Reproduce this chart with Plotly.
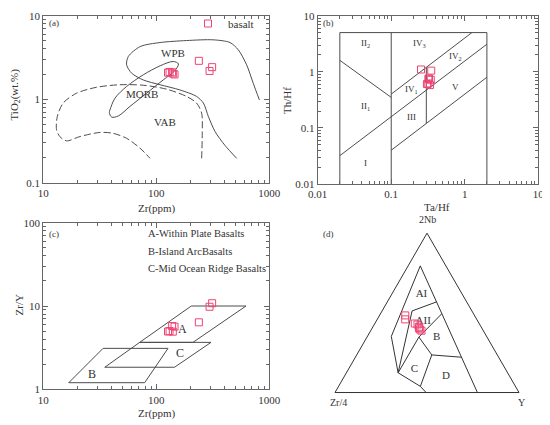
import numpy as np
import plotly.graph_objects as go

# the page body adds an 8px margin, so the figure is 8px smaller and all
# layout positions below are given in window pixels and converted
OFF = 8
W, H = 550 - OFF, 425 - OFF
def px(x): return (x - OFF) / W
def py(y): return 1 - (y - OFF) / H

FONT = "Liberation Serif"
TXT = "#333333"
LINE = "#4d4d4d"
AXC = "#666666"
MK = "#ee4473"

# ---------------- sample data ----------------
# (a) Zr - TiO2
zr_a = [127, 131, 138, 140, 145, 238, 296, 312]
tio2_a = [2.08, 2.12, 2.10, 2.03, 1.98, 2.88, 2.18, 2.42]
# (b) Ta/Hf - Th/Hf
ta_hf = [0.306, 0.319, 0.326, 0.336, 0.345, 0.254, 0.350, 0.320]
th_hf = [0.605, 0.620, 0.760, 0.580, 0.720, 1.10, 1.05, 0.75]
# (c) Zr - Zr/Y
zr_c = [127, 131, 138, 140, 145, 238, 296, 312]
zry_c = [4.94, 5.00, 5.75, 4.92, 5.65, 6.37, 9.8, 10.8]
# (d) ternary 2Nb - Zr/4 - Y
nb2_d = [0.484, 0.459, 0.433, 0.427, 0.413, 0.404, 0.396, 0.388]
zr4_d = [0.376, 0.389, 0.350, 0.338, 0.336, 0.342, 0.341, 0.336]
y_d = [0.140, 0.152, 0.217, 0.235, 0.251, 0.254, 0.263, 0.276]

# ---------------- field boundaries ----------------
# (a)
wpb_zr = [817, 721, 630, 532, 449, 319, 185, 108, 72, 56.5, 54.6, 60.5, 76.7, 108, 162, 227, 261, 289, 331, 405, 514]
wpb_ti = [0.98, 1.55, 2.58, 3.9, 4.77, 5.14, 5.04, 4.77, 4.27, 3.24, 2.58, 2.05, 1.70, 1.49, 1.29, 1.08, 0.90, 0.62, 0.41, 0.28, 0.196]
morb_zr = [38.9, 43.1, 54.6, 76.7, 108, 141, 157, 146, 115, 82, 58.5, 46.1, 40.3, 38.4, 38.9]
morb_ti = [0.745, 1.03, 1.42, 1.96, 2.51, 2.83, 2.65, 2.20, 1.70, 1.18, 0.82, 0.63, 0.61, 0.69, 0.745]
vab_zr = [252, 255, 252, 227, 185, 123, 76.7, 47.7, 29.6, 19.7, 15.0, 13.3, 13.1, 14.0, 16.1, 21.1, 31.7, 41.6, 54.6, 71.6, 88]
vab_ti = [0.196, 0.39, 0.68, 0.90, 1.08, 1.32, 1.47, 1.49, 1.39, 1.18, 0.90, 0.62, 0.43, 0.357, 0.317, 0.357, 0.40, 0.39, 0.34, 0.26, 0.196]
labels_a = ["WPB", "MORB", "VAB"]
labels_a_zr = [140, 74, 119]
labels_a_ti = [3.56, 1.16, 0.54]

# (b) line segments (Ta/Hf pairs, Th/Hf pairs)
seg_b_x = [[0.02, 0.02, 2, 2], [0.1, 0.1], [0.02, 0.1], [0.02, 2], [0.1, 1.25], [0.1, 2], [0.3, 0.3]]
seg_b_y = [[0.01, 5, 5, 0.01], [0.01, 5], [1.6, 0.35], [0.032, 3.1], [0.4, 5], [0.04, 0.8], [0.12, 1.2]]
labels_b = ["II<sub>2</sub>", "IV<sub>3</sub>", "IV<sub>2</sub>", "IV<sub>1</sub>", "II<sub>1</sub>", "III", "V", "I"]
labels_b_x = [0.044, 0.246, 0.74, 0.186, 0.044, 0.186, 0.74, 0.044]
labels_b_y = [3.2, 3.2, 1.86, 0.49, 0.245, 0.154, 0.53, 0.024]

# (c) fields
fieldA_zr = [71.3, 204, 622, 211, 71.3]
fieldA_zry = [3.66, 10, 10, 3.66, 3.66]
fieldB_zr = [16.8, 33.8, 127, 78.9, 16.8]
fieldB_zry = [1.2, 3.1, 3.1, 1.2, 1.2]
fieldC_zr = [35, 71.3, 305, 145, 35]
fieldC_zry = [1.84, 3.66, 3.66, 1.84, 1.84]
labels_c = ["A", "B", "C"]
labels_c_zr = [170, 27.2, 161]
labels_c_zry = [5.25, 1.51, 2.73]
legend_c = ["A-Within Plate Basalts", "B-Island ArcBasalts", "C-Mid Ocean Ridge Basalts"]

# (d) ternary boundaries (2Nb, Zr/4, Y)
seg_d = [
    ([0.0, 0.795, 0.352, 0.124, 0.0386, 0.0], [0.226, 0.139, 0.518, 0.595, 0.517, 0.505], [0.774, 0.066, 0.130, 0.281, 0.445, 0.495]),
    ([0.512, 0.569], [0.325, 0.163], [0.163, 0.268]),
    ([0.512, 0.124], [0.325, 0.595], [0.163, 0.281]),
    ([0.494, 0.348], [0.173, 0.370], [0.333, 0.282]),
    ([0.348, 0.124], [0.370, 0.595], [0.282, 0.281]),
    ([0.348, 0.236], [0.370, 0.356], [0.282, 0.408]),
    ([0.236, 0.2215], [0.356, 0.2025], [0.408, 0.576]),
    ([0.236, 0.0386], [0.356, 0.517], [0.408, 0.445]),
]
labels_d = ["AI", "AII", "B", "C", "D"]
labels_d_a = [0.618, 0.447, 0.350, 0.146, 0.0996]
labels_d_b = [0.221, 0.297, 0.272, 0.496, 0.347]
labels_d_c = [0.161, 0.256, 0.378, 0.358, 0.554]

fig = go.Figure()
marker = dict(symbol="square-open", size=7, color=MK, line=dict(width=1, color=MK))

# ---- panel a
fig.add_trace(go.Scatter(x=wpb_zr, y=wpb_ti, mode="lines", line=dict(color=LINE, width=1, shape="spline", smoothing=0.8), xaxis="x", yaxis="y", showlegend=False, hoverinfo="skip"))
fig.add_trace(go.Scatter(x=morb_zr, y=morb_ti, mode="lines", line=dict(color=LINE, width=1, shape="spline", smoothing=0.9), xaxis="x", yaxis="y", showlegend=False, hoverinfo="skip"))
fig.add_trace(go.Scatter(x=vab_zr, y=vab_ti, mode="lines", line=dict(color=LINE, width=1, dash="7px,3px", shape="spline", smoothing=0.8), xaxis="x", yaxis="y", showlegend=False, hoverinfo="skip"))
fig.add_trace(go.Scatter(x=zr_a, y=tio2_a, mode="markers", marker=marker, name="basalt", xaxis="x", yaxis="y", showlegend=True))

# ---- panel b
for sx, sy in zip(seg_b_x, seg_b_y):
    fig.add_trace(go.Scatter(x=sx, y=sy, mode="lines", line=dict(color=LINE, width=1), xaxis="x2", yaxis="y2", showlegend=False, hoverinfo="skip"))
fig.add_trace(go.Scatter(x=ta_hf, y=th_hf, mode="markers", marker=marker, name="basalt", xaxis="x2", yaxis="y2", showlegend=False))

# ---- panel c
for fx, fy in [(fieldA_zr, fieldA_zry), (fieldB_zr, fieldB_zry), (fieldC_zr, fieldC_zry)]:
    fig.add_trace(go.Scatter(x=fx, y=fy, mode="lines", line=dict(color=LINE, width=1), xaxis="x3", yaxis="y3", showlegend=False, hoverinfo="skip"))
fig.add_trace(go.Scatter(x=zr_c, y=zry_c, mode="markers", marker=marker, name="basalt", xaxis="x3", yaxis="y3", showlegend=False))

# ---- panel d
for sa, sb, sc in seg_d:
    fig.add_trace(go.Scatterternary(a=sa, b=sb, c=sc, mode="lines", line=dict(color="#333333", width=1), showlegend=False, hoverinfo="skip"))
fig.add_trace(go.Scatterternary(a=labels_d_a, b=labels_d_b, c=labels_d_c, mode="text", text=labels_d, textfont=dict(family=FONT, size=11, color=TXT), showlegend=False, hoverinfo="skip"))
fig.add_trace(go.Scatterternary(a=nb2_d, b=zr4_d, c=y_d, mode="markers", marker=marker, name="basalt", showlegend=False))

def minor_vals(lo, hi):
    return [d * 10.0 ** e for e in range(lo, hi) for d in range(2, 10)]

def logaxis(domain, rng, tickvals, ticktext, anchor):
    return dict(type="log", domain=domain, range=rng, tickmode="array", tickvals=tickvals, ticktext=ticktext,
                ticks="inside", ticklen=5, tickcolor=AXC, showline=True, linecolor=AXC, linewidth=1,
                mirror="allticks", showgrid=False, zeroline=False, anchor=anchor, automargin=False,
                tickfont=dict(family=FONT, size=11, color=TXT),
                minor=dict(tickvals=minor_vals(int(rng[0]), int(rng[1])), ticks="inside", ticklen=3, tickcolor=AXC))

xa = [px(43.3), px(269.3)]
ya = [py(182.7), py(15.7)]
xb = [px(317.7), px(538.3)]
yb = [py(184), py(15.7)]
xc = [px(43.3), px(269.3)]
yc = [py(389.3), py(222.7)]

fig.update_layout(
    width=W, height=H, autosize=False, margin=dict(l=0, r=0, t=0, b=0, pad=0, autoexpand=False),
    paper_bgcolor="white", plot_bgcolor="white",
    font=dict(family=FONT, size=11, color=TXT),
    xaxis=logaxis(xa, [1, 3], [10, 100, 1000], ["10", "100", "1000"], "y"),
    yaxis=logaxis(ya, [-1, 1], [0.1, 1, 10], ["0.1", "1", "10"], "x"),
    xaxis2=logaxis(xb, [-2, 1], [0.01, 0.1, 1, 10], ["0.01", "0.1", "1", "10"], "y2"),
    yaxis2=logaxis(yb, [-2, 1], [0.01, 0.1, 1, 10], ["0.01", "0.1", "1", "10"], "x2"),
    xaxis3=logaxis(xc, [1, 3], [10, 100, 1000], ["10", "100", "1000"], "y3"),
    yaxis3=logaxis(yc, [0, 2], [1, 10, 100], ["1", "10", "100"], "x3"),
    ternary=dict(
        domain=dict(x=[px(335), px(519)], y=[py(392.7), py(233)]),
        bgcolor="white", sum=1,
        aaxis=dict(showticklabels=False, ticks="", showgrid=False, showline=True, linecolor="#333333", linewidth=1, title=dict(text="")),
        baxis=dict(showticklabels=False, ticks="", showgrid=False, showline=True, linecolor="#333333", linewidth=1, title=dict(text="")),
        caxis=dict(showticklabels=False, ticks="", showgrid=False, showline=True, linecolor="#333333", linewidth=1, title=dict(text="")),
    ),
    legend=dict(x=px(188), y=py(9), xanchor="left", yanchor="top", bgcolor="rgba(0,0,0,0)",
                font=dict(family=FONT, size=11, color=TXT), itemwidth=30, borderwidth=0),
)

ann = []
def A(text, x, y, size=11, angle=0, xanchor="center", xref="paper", yref="paper"):
    ann.append(dict(text=text, x=x, y=y, xref=xref, yref=yref, showarrow=False, textangle=angle,
                    xanchor=xanchor, yanchor="middle", font=dict(family=FONT, size=size, color=TXT)))

# panel tags
A("(a)", px(54), py(22.5), size=9)
A("(b)", px(328.5), py(22.5), size=9)
A("(c)", px(54), py(233.5), size=9)
A("(d)", px(328.5), py(233.5), size=9)
# axis titles
A("Zr(ppm)", px(156.7), py(208), size=11)
A("TiO<sub>2</sub>(wt.%)", px(14.5), py(95), size=11, angle=-90)
A("Ta/Hf", px(436.7), py(207), size=11)
A("Th/Hf", px(287), py(101), size=11, angle=-90)
A("Zr(ppm)", px(156.7), py(413), size=11)
A("Zr/Y", px(18.5), py(305), size=11, angle=-90)
# ternary apices
A("2Nb", px(427.3), py(220), size=10)
A("Zr/4", px(338.5), py(402), size=10)
A("Y", px(521.5), py(402), size=10)
# field labels
for t, x, y in zip(labels_a, labels_a_zr, labels_a_ti):
    A(t, np.log10(x), np.log10(y), size=11, xref="x", yref="y")
for t, x, y in zip(labels_b, labels_b_x, labels_b_y):
    A(t, np.log10(x), np.log10(y), size=9, xref="x2", yref="y2")
for t, x, y in zip(labels_c, labels_c_zr, labels_c_zry):
    A(t, np.log10(x), np.log10(y), size=12, xref="x3", yref="y3")
for i, t in enumerate(legend_c):
    A(t, px(146), py(234 + 17.3 * i), size=10.5, xanchor="left")

fig.update_layout(annotations=ann)
fig.write_html("out.html")
